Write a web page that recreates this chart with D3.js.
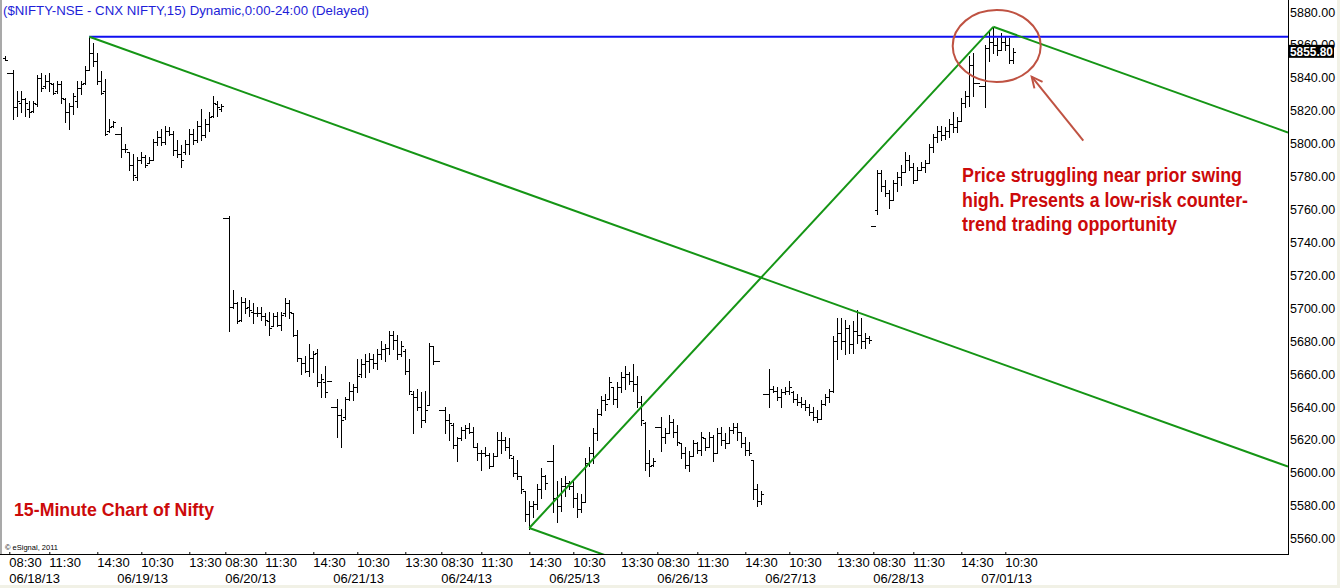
<!DOCTYPE html>
<html><head><meta charset="utf-8">
<script src="https://cdn.jsdelivr.net/npm/d3@7"></script>
<style>html,body{margin:0;padding:0;background:#fff;overflow:hidden}</style>
</head><body>
<svg id="chart" width="1340" height="588"></svg>
<script>
// ---- 15-minute OHLC bars, 06/18/13 .. 07/01/13 ----
const opens=[
5852,5843,5843,5822,5825,5827,5821,5820,5824,5840,5835,5838,5836,5832,5836,5827,5819,5823,5826,5834,5837,5845,5855,5850,5838,5832,5808,5811,
5806,5806,5797,5795,5787,5780,5790,5792,5788,5790,5801,5804,5801,5808,5806,5796,5794,5795,5800,5806,5802,5811,5805,5812,5817,5824,5821,
5755,5755,5701,5703,5693,5704,5701,5698,5697,5697,5695,5692,5689,5695,5690,5697,5703,5697,5684,5670,5667,5662,5670,5673,5655,5655,5656,
5640,5640,5635,5634,5645,5650,5652,5660,5666,5668,5669,5667,5672,5675,5676,5684,5681,5672,5674,5662,5648,5646,5640,5632,5641,5677,5668,
5638,5638,5632,5629,5617,5621,5626,5627,5625,5616,5612,5612,5611,5604,5610,5620,5620,5616,5609,5600,5598,5589,5575,5580,5581,5590,5598,
5607,5607,5585,5580,5592,5594,5592,5585,5578,5582,5606,5612,5624,5636,5644,5645,5652,5645,5652,5658,5660,5656,5654,5643,5630,5606,5605,
5628,5628,5622,5624,5631,5625,5618,5612,5605,5610,5618,5614,5621,5616,5622,5612,5624,5620,5618,5626,5628,5625,5618,5614,5608,5590,5583,
5648,5648,5651,5650,5646,5649,5650,5649,5645,5643,5642,5640,5637,5634,5633,5642,5646,5650,5680,5685,5680,5688,5678,5686,5684,5680,5682,
5750,5760,5782,5774,5770,5766,5776,5780,5783,5790,5786,5778,5784,5786,5788,5798,5804,5808,5805,5808,5812,5810,5814,5825,5829,5848,5837,
5835,5835,5858,5862,5860,5857,5862,5860,5851];
const highs=[
5853,5843,5845,5832,5832,5828,5826,5826,5842,5843,5842,5843,5837,5838,5838,5828,5825,5831,5838,5838,5847,5865,5861,5855,5844,5839,5815,5814,
5806,5810,5800,5795,5794,5792,5795,5793,5792,5803,5808,5809,5811,5810,5808,5802,5799,5802,5809,5809,5814,5821,5815,5819,5829,5826,5824,
5755,5756,5711,5704,5707,5706,5705,5703,5701,5701,5697,5698,5697,5698,5698,5706,5705,5697,5687,5670,5671,5678,5674,5675,5660,5665,5656,
5640,5645,5639,5646,5655,5654,5669,5669,5672,5673,5672,5675,5680,5678,5686,5686,5684,5680,5675,5669,5650,5651,5649,5650,5679,5677,5668,
5638,5640,5636,5630,5622,5628,5629,5630,5628,5618,5614,5616,5612,5612,5625,5625,5622,5621,5610,5608,5598,5589,5583,5583,5593,5603,5599,
5607,5617,5595,5597,5598,5595,5595,5588,5587,5609,5616,5627,5639,5647,5648,5658,5652,5655,5661,5665,5661,5666,5659,5647,5631,5614,5609,
5628,5634,5627,5635,5633,5629,5618,5616,5613,5620,5619,5625,5621,5625,5623,5627,5628,5624,5628,5630,5630,5625,5622,5619,5608,5593,5589,
5648,5663,5653,5652,5651,5652,5656,5650,5648,5646,5644,5642,5640,5638,5644,5648,5651,5683,5694,5694,5693,5690,5692,5699,5694,5685,5683,
5750,5784,5784,5778,5772,5778,5783,5787,5795,5793,5788,5786,5789,5790,5800,5806,5811,5811,5810,5815,5819,5816,5828,5832,5853,5855,5837,
5835,5860,5869,5871,5864,5867,5865,5864,5858];
const lows=[
5851,5843,5815,5817,5819,5817,5816,5819,5823,5832,5834,5832,5830,5831,5825,5813,5809,5818,5822,5830,5836,5845,5847,5836,5830,5805,5807,5810,
5806,5792,5795,5784,5778,5778,5788,5786,5788,5790,5799,5799,5800,5805,5793,5792,5786,5794,5794,5800,5801,5802,5804,5808,5816,5817,5820,
5755,5686,5700,5691,5692,5697,5695,5691,5695,5693,5690,5684,5689,5689,5687,5695,5694,5683,5668,5660,5661,5659,5661,5653,5646,5646,5656,
5640,5622,5616,5633,5644,5644,5649,5658,5658,5661,5664,5663,5669,5668,5672,5675,5669,5671,5660,5648,5624,5638,5628,5631,5641,5666,5668,
5638,5624,5620,5615,5607,5620,5621,5624,5616,5608,5602,5610,5603,5604,5610,5612,5614,5609,5598,5596,5588,5571,5566,5573,5578,5585,5590,
5607,5576,5570,5577,5586,5590,5579,5573,5576,5582,5604,5606,5620,5635,5638,5645,5642,5640,5649,5651,5654,5650,5640,5629,5602,5598,5604,
5628,5613,5618,5624,5622,5617,5609,5603,5601,5610,5612,5611,5614,5616,5607,5612,5617,5615,5618,5624,5620,5616,5611,5611,5584,5580,5581,
5648,5640,5649,5644,5640,5648,5648,5643,5641,5640,5638,5635,5632,5631,5633,5641,5643,5649,5669,5675,5672,5673,5673,5679,5676,5676,5679,
5750,5757,5771,5768,5761,5766,5771,5775,5783,5784,5776,5778,5784,5783,5788,5795,5801,5802,5803,5804,5807,5807,5814,5822,5823,5829,5837,
5835,5822,5850,5855,5854,5857,5857,5849,5849];
const closes=[
5851,5843,5822,5826,5827,5825,5819,5825,5840,5834,5838,5837,5831,5836,5828,5819,5823,5829,5834,5836,5845,5855,5850,5838,5831,5806,5810,5813,
5806,5797,5797,5787,5781,5790,5792,5787,5790,5801,5804,5801,5808,5806,5796,5794,5790,5800,5806,5802,5811,5805,5812,5816,5825,5822,5823,
5755,5701,5703,5692,5704,5700,5699,5697,5697,5695,5693,5688,5695,5690,5696,5703,5698,5684,5670,5667,5662,5670,5672,5655,5657,5649,5656,
5640,5635,5632,5645,5650,5652,5659,5666,5668,5669,5667,5672,5675,5676,5684,5681,5672,5677,5662,5650,5646,5640,5632,5638,5677,5668,5668,
5638,5632,5630,5617,5621,5626,5627,5625,5616,5612,5612,5611,5604,5610,5620,5620,5616,5611,5600,5598,5590,5575,5580,5581,5590,5598,5594,
5607,5585,5580,5592,5594,5592,5585,5578,5582,5606,5612,5624,5636,5644,5642,5655,5645,5652,5658,5660,5656,5654,5643,5632,5606,5604,5607,
5628,5622,5624,5631,5625,5619,5612,5605,5610,5618,5614,5622,5616,5622,5612,5624,5620,5618,5626,5628,5625,5618,5614,5612,5590,5583,5587,
5648,5651,5650,5646,5649,5650,5652,5645,5643,5642,5640,5637,5634,5633,5642,5646,5650,5680,5685,5680,5688,5678,5686,5684,5680,5682,5681,
5750,5782,5774,5770,5766,5776,5780,5783,5790,5786,5778,5784,5786,5788,5798,5804,5808,5805,5808,5812,5810,5814,5825,5829,5848,5837,5837,
5835,5858,5862,5860,5857,5862,5860,5851,5855.8];

const dayStartIdx=[1,28,55,82,109,136,163,190,217,244];
const dayLabels=["06/18/13","06/19/13","06/20/13","06/21/13","06/24/13","06/25/13","06/26/13","06/27/13","06/28/13","07/01/13"];
const timeTickIdx=[1,11,23,34,46,55,65,77,88,100,109,119,131,142,154,163,173,185,196,208,217,227,239,250];
const timeTickLabels=["08:30","11:30","14:30","10:30","13:30","08:30","11:30","14:30","10:30","13:30","08:30","11:30","14:30","10:30","13:30","08:30","11:30","14:30","10:30","13:30","08:30","11:30","14:30","10:30"];
const priceTicks=[5560,5580,5600,5620,5640,5660,5680,5700,5720,5740,5760,5780,5800,5820,5840,5860,5880];
const lastPrice=5855.80;
const swingHigh={i:21,p:5865}, swingLow={i:131,p:5566.5}, recentHigh={i:247,p:5871};
const channelSlope=-0.8716;
const titleText="($NIFTY-NSE - CNX NIFTY,15) Dynamic,0:00-24:00 (Delayed)";
const noteLines=["Price struggling near prior swing","high. Presents a low-risk counter-","trend trading opportunity"];
const chartLabel="15-Minute Chart of Nifty";

// ---- layout ----
const W=1340,H=588, plotL=2, plotR=1288, plotB=554;
const FONT='"Liberation Sans", Arial, sans-serif';
const svg=d3.select("#chart");
svg.append("rect").attr("width",W).attr("height",H).attr("fill","#fff");
svg.append("rect").attr("x",0).attr("y",585).attr("width",W).attr("height",3).attr("fill","#f1f1e6");
svg.append("rect").attr("x",1337).attr("y",0).attr("width",3).attr("height",H).attr("fill","#f1f1e6");
svg.append("rect").attr("x",0).attr("y",0).attr("width",2).attr("height",plotB+1).attr("fill","#a9a9a9");

const x=d3.scaleLinear().domain([0,252]).range([5.3,1013.3]);
const y=d3.scaleLinear().domain([5560,5880]).range([538.7,12]);
const iEnd=x.invert(plotR);

svg.append("defs").append("clipPath").attr("id","clip").append("rect")
  .attr("x",plotL).attr("y",0).attr("width",plotR-plotL).attr("height",plotB);

// title
svg.append("text").attr("x",3).attr("y",15).attr("font-family",FONT).attr("font-size",13)
  .attr("fill","#1e1ed8").attr("textLength",366).attr("lengthAdjust","spacingAndGlyphs").text(titleText);

// bars
const bars=svg.append("g").attr("shape-rendering","crispEdges").attr("fill","#000");
opens.forEach((o,i)=>{
  const px=Math.floor(x(i));
  const hi=Math.max(highs[i],o,closes[i]), lo=Math.min(lows[i],o,closes[i]);
  const yt=Math.round(y(hi)), yb=Math.round(y(lo));
  bars.append("rect").attr("x",px).attr("y",yt).attr("width",1).attr("height",Math.max(1,yb-yt+1));
  bars.append("rect").attr("x",px-2).attr("y",Math.round(y(o))).attr("width",2).attr("height",1);
  bars.append("rect").attr("x",px+1).attr("y",Math.round(y(closes[i]))).attr("width",2).attr("height",1);
});

// trend lines
const tl=svg.append("g").attr("clip-path","url(#clip)").attr("fill","none").attr("stroke-width",2);
tl.append("line").attr("stroke","#0f0ff0")
  .attr("x1",x(swingHigh.i)).attr("y1",y(swingHigh.p)).attr("x2",x(iEnd)).attr("y2",y(swingHigh.p));
const green="#159515";
function chan(a){return [[x(a.i),y(a.p)],[x(iEnd),y(a.p+channelSlope*(iEnd-a.i))]];}
[swingHigh,swingLow,recentHigh].forEach(a=>{
  const s=chan(a);
  tl.append("line").attr("stroke",green).attr("x1",s[0][0]).attr("y1",s[0][1]).attr("x2",s[1][0]).attr("y2",s[1][1]);
});
tl.append("line").attr("stroke",green)
  .attr("x1",x(swingLow.i)).attr("y1",y(swingLow.p)).attr("x2",x(recentHigh.i)).attr("y2",y(recentHigh.p));

// axes frame
svg.append("line").attr("x1",0).attr("x2",plotR+0.5).attr("y1",plotB+0.5).attr("y2",plotB+0.5).attr("stroke","#000").attr("shape-rendering","crispEdges");
svg.append("line").attr("x1",plotR+0.5).attr("x2",plotR+0.5).attr("y1",0).attr("y2",plotB+0.5).attr("stroke","#000").attr("shape-rendering","crispEdges");

// right price axis
const ya=svg.append("g").attr("transform",`translate(${plotR},0)`)
  .call(d3.axisRight(y).tickValues(priceTicks).tickFormat(d3.format(".2f")).tickSize(0).tickPadding(2));
ya.select(".domain").remove();
ya.selectAll("text").attr("font-family",FONT).attr("font-size",12.5).attr("fill","#000");

// last price box (covers most of the 5860 label, as in the reference)
svg.append("rect").attr("x",1289).attr("y",y(lastPrice)-7).attr("width",45).attr("height",13).attr("fill","#000");
svg.append("text").attr("x",1290).attr("y",y(lastPrice)+4.5).attr("font-family",FONT).attr("font-weight","bold")
  .attr("font-size",12).attr("fill","#fff").attr("textLength",43).attr("lengthAdjust","spacingAndGlyphs")
  .text(d3.format(".2f")(lastPrice));

// bottom time axis
const xa=svg.append("g").attr("transform",`translate(0,${plotB})`)
  .call(d3.axisBottom(x).tickValues(timeTickIdx).tickFormat((d,k)=>timeTickLabels[k]).tickSize(-2).tickPadding(4));
xa.select(".domain").remove();
xa.selectAll("line").attr("stroke","#000");
xa.selectAll("text").attr("font-family",FONT).attr("font-size",13).attr("fill","#000").attr("text-anchor","start").attr("x",-0.5);
const da=svg.append("g").attr("transform",`translate(0,${plotB})`)
  .call(d3.axisBottom(x).tickValues(dayStartIdx).tickFormat((d,k)=>dayLabels[k]).tickSize(0).tickPadding(20));
da.select(".domain").remove();
da.selectAll("text").attr("font-family",FONT).attr("font-size",13).attr("fill","#000").attr("text-anchor","start").attr("x",-0.5);

// copyright
svg.append("text").attr("x",5).attr("y",550).attr("font-family",FONT).attr("font-size",7.5).attr("fill","#000").text("\u00A9 eSignal, 2011");

// condensed bold red text: smaller font stretched vertically so glyphs look narrow
function narrowText(t, x0, base, width, cap){
  const fs=cap/1.15;
  svg.append("text").attr("transform",`translate(${x0},${base}) scale(1,1.15)`)
    .attr("font-family",FONT).attr("font-weight","bold").attr("font-size",fs)
    .attr("fill","#cc0a0a").attr("textLength",width).attr("lengthAdjust","spacingAndGlyphs").text(t);
}
narrowText(chartLabel,14,516,200,18);

// annotation ellipse + arrow
const red2="#bf5242";
svg.append("ellipse").attr("cx",x(247.85)).attr("cy",y(5859.3)).attr("rx",44).attr("ry",36)
  .attr("fill","none").attr("stroke",red2).attr("stroke-width",2);
const tail=[x(269.5),y(5801.8)], tip=[x(256.6),y(5840.7)];
svg.append("line").attr("x1",tail[0]).attr("y1",tail[1]).attr("x2",tip[0]).attr("y2",tip[1]).attr("stroke",red2).attr("stroke-width",2);
const ang=Math.atan2(tail[1]-tip[1],tail[0]-tip[0]), al=12, aw=0.45;
svg.append("path").attr("fill","none").attr("stroke",red2).attr("stroke-width",2)
  .attr("d",`M${tip[0]+al*Math.cos(ang+aw)},${tip[1]+al*Math.sin(ang+aw)}L${tip[0]},${tip[1]}L${tip[0]+al*Math.cos(ang-aw)},${tip[1]+al*Math.sin(ang-aw)}`);

// annotation text
const noteW=[280,286,215], noteY=[182,206.5,231];
noteLines.forEach((t,k)=>narrowText(t,962,noteY[k],noteW[k],21));
</script>
</body></html>
